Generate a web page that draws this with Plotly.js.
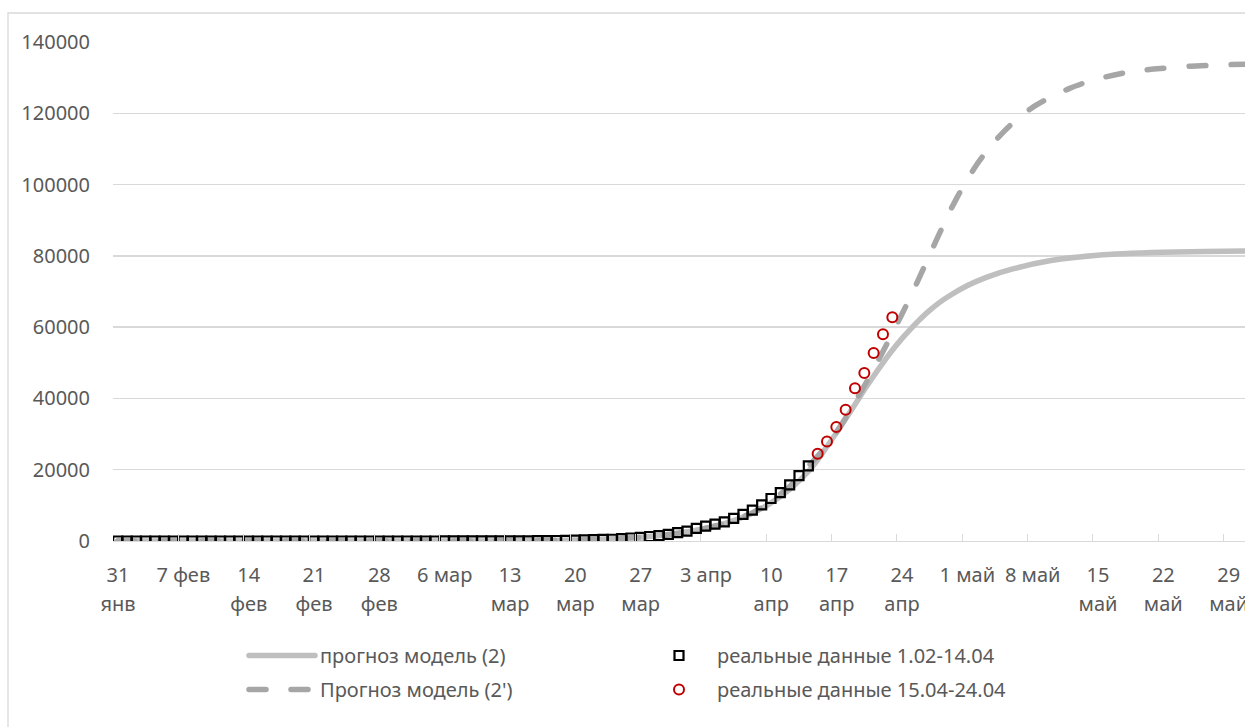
<!DOCTYPE html>
<html>
<head>
<meta charset="utf-8">
<script src="https://cdn.plot.ly/plotly-3.0.1.min.js"></script>
<style>
  html, body { margin: 0; padding: 0; background: #fff; overflow: hidden; }
  #chart { width: 1300px; height: 727px; }
  path.js-line { stroke-linecap: round; stroke-linejoin: round; }
</style>
</head>
<body>
<div id="chart"></div>
<script>
// ---------- data ----------
const realDates1 = [
  "2020-01-31",
  "2020-02-01","2020-02-02","2020-02-03","2020-02-04","2020-02-05","2020-02-06","2020-02-07",
  "2020-02-08","2020-02-09","2020-02-10","2020-02-11","2020-02-12","2020-02-13","2020-02-14",
  "2020-02-15","2020-02-16","2020-02-17","2020-02-18","2020-02-19","2020-02-20","2020-02-21",
  "2020-02-22","2020-02-23","2020-02-24","2020-02-25","2020-02-26","2020-02-27","2020-02-28","2020-02-29",
  "2020-03-01","2020-03-02","2020-03-03","2020-03-04","2020-03-05","2020-03-06","2020-03-07",
  "2020-03-08","2020-03-09","2020-03-10","2020-03-11","2020-03-12","2020-03-13","2020-03-14",
  "2020-03-15","2020-03-16","2020-03-17","2020-03-18","2020-03-19","2020-03-20","2020-03-21",
  "2020-03-22","2020-03-23","2020-03-24","2020-03-25","2020-03-26","2020-03-27","2020-03-28",
  "2020-03-29","2020-03-30","2020-03-31",
  "2020-04-01","2020-04-02","2020-04-03","2020-04-04","2020-04-05","2020-04-06","2020-04-07",
  "2020-04-08","2020-04-09","2020-04-10","2020-04-11","2020-04-12","2020-04-13","2020-04-14"
];
const realValues1 = [
  2,
  2,2,2,2,2,2,2,
  2,2,2,2,2,2,2,
  2,2,2,2,2,2,2,
  2,2,2,2,2,2,2,2,
  2,3,3,3,4,10,14,
  17,17,20,28,34,45,59,
  63,90,114,147,199,253,306,
  367,438,495,658,840,1036,1264,
  1534,1836,2337,
  2777,3548,4149,4731,5389,6343,7497,
  8672,10131,11917,13584,15770,18328,21102
];

const realDates2 = ["2020-04-15","2020-04-16","2020-04-17","2020-04-18","2020-04-19",
                    "2020-04-20","2020-04-21","2020-04-22","2020-04-23"];
const realValues2 = [24490,27938,32008,36793,42853,47121,52763,57999,62773];

const model2Dates = [
  "2020-01-31","2020-02-15","2020-03-01","2020-03-10","2020-03-15","2020-03-20","2020-03-24",
  "2020-03-27","2020-03-30","2020-04-02","2020-04-05","2020-04-08","2020-04-10","2020-04-12",
  "2020-04-14","2020-04-15","2020-04-16","2020-04-17","2020-04-18","2020-04-19","2020-04-20",
  "2020-04-21","2020-04-22","2020-04-23","2020-04-24","2020-04-25","2020-04-26","2020-04-27",
  "2020-04-28","2020-04-29","2020-05-01","2020-05-03","2020-05-06","2020-05-10","2020-05-15",
  "2020-05-22","2020-05-31","2020-06-07"
];
const model2Values = [
  0,0,5,30,90,270,600,
  1050,1800,3000,4900,7800,10700,14500,
  19500,22800,26500,30300,34300,38300,42400,
  46300,50000,53500,56700,59600,62300,64700,
  66800,68600,71600,73900,76400,78700,80200,
  81000,81400,81500
];

const model2pDates = [
  "2020-01-31","2020-02-15","2020-03-01","2020-03-10","2020-03-15","2020-03-20","2020-03-24",
  "2020-03-27","2020-03-30","2020-04-02","2020-04-05","2020-04-08","2020-04-10","2020-04-12",
  "2020-04-14","2020-04-15","2020-04-16","2020-04-17","2020-04-18","2020-04-19","2020-04-20",
  "2020-04-21","2020-04-22","2020-04-23","2020-04-24","2020-04-25","2020-04-26","2020-04-27",
  "2020-04-28","2020-04-29","2020-04-30","2020-05-01","2020-05-02","2020-05-03","2020-05-04",
  "2020-05-05","2020-05-06","2020-05-07","2020-05-08","2020-05-10","2020-05-12","2020-05-14",
  "2020-05-16","2020-05-18","2020-05-21","2020-05-25","2020-05-31","2020-06-07"
];
const model2pValues = [
  0,0,5,30,90,270,600,
  1050,1800,3000,4900,7900,11200,15300,
  21000,23800,27000,30500,34500,39000,43500,
  48300,53200,58300,63500,68800,74500,80300,
  86000,91600,96700,101300,105400,109000,112200,
  115000,117500,119700,121600,124600,127000,128900,
  130300,131400,132400,133200,133800,134000
];

// tick dates and their two-line labels (first line / second line)
const tickDates = ["2020-01-31","2020-02-07","2020-02-14","2020-02-21","2020-02-28","2020-03-06",
  "2020-03-13","2020-03-20","2020-03-27","2020-04-03","2020-04-10","2020-04-17","2020-04-24",
  "2020-05-01","2020-05-08","2020-05-15","2020-05-22","2020-05-29"];
const tickLine1 = ["31","7 фев","14","21","28","6 мар","13","20","27","3 апр","10","17","24",
  "1 май","8 май","15","22","29"];
const tickLine2 = ["янв","","фев","фев","фев","","мар","мар","мар","","апр","апр","апр",
  "","","май","май","май"];

const yTicks = [0,20000,40000,60000,80000,100000,120000,140000];

// ---------- helpers: plot each daily value at the middle of its day ----------
const mid = d => d + " 12:00";

const FONT = {family: "Noto Sans, Open Sans, sans-serif", size: 20, color: "#595959"};
const X_RANGE = ["2020-01-31", "2020-06-06 04:20"];

const traces = [
  {
    x: model2Dates.map(mid), y: model2Values, type: "scatter", mode: "lines",
    name: "прогноз модель (2)", legend: "legend",
    line: {color: "#bfbfbf", width: 5.5, shape: "spline", smoothing: 0.6}
  },
  {
    x: model2pDates.map(mid), y: model2pValues, type: "scatter", mode: "lines",
    name: "Прогноз модель (2')", legend: "legend2",
    line: {color: "#a6a6a6", width: 5.5, dash: "17px,25px", shape: "spline", smoothing: 0.6}
  },
  {
    x: realDates1.map(mid), y: realValues1, type: "scatter", mode: "markers",
    name: "реальные данные 1.02-14.04", legend: "legend3",
    marker: {symbol: "square", size: 9, color: "rgba(0,0,0,0)", line: {color: "#000000", width: 2.2}}
  },
  {
    x: realDates2.map(mid), y: realValues2, type: "scatter", mode: "markers",
    name: "реальные данные 15.04-24.04", legend: "legend4",
    marker: {symbol: "circle", size: 10, color: "rgba(0,0,0,0)", line: {color: "#c00000", width: 2}}
  },
  // carrier for the second line of the date labels (nothing visible)
  {
    x: [mid(tickDates[0])], y: [0], xaxis: "x2", yaxis: "y", type: "scatter", mode: "markers",
    marker: {opacity: 0}, showlegend: false, hoverinfo: "skip"
  }
];

const PW = 1187; // plot width in px
const legendBase = {
  orientation: "v", itemwidth: 66, font: FONT, bgcolor: "rgba(0,0,0,0)",
  xanchor: "left", yanchor: "top"
};
const px2x = p => (p - 113) / PW;
const py2y = p => (541 - p) / 499;

const layout = {
  width: 1300, height: 727,
  margin: {l: 113, r: 0, t: 42, b: 186},
  paper_bgcolor: "#ffffff", plot_bgcolor: "#ffffff",
  font: FONT,
  xaxis: {
    type: "date",
    range: X_RANGE,
    tickvals: tickDates, ticktext: tickLine1,
    ticks: "inside", ticklen: 7, tickcolor: "#d9d9d9", tickwidth: 1,
    ticklabelshift: 5, ticklabelstandoff: 16,
    showgrid: false, zeroline: false,
    showline: true, linecolor: "#d9d9d9", linewidth: 1.3,
    tickfont: FONT, fixedrange: true
  },
  xaxis2: {
    type: "date", overlaying: "x", anchor: "y", side: "bottom", matches: "x",
    range: X_RANGE,
    tickvals: tickDates, ticktext: tickLine2,
    ticks: "", ticklabelshift: 5, ticklabelstandoff: 49,
    showgrid: false, zeroline: false, showline: false,
    tickfont: FONT, fixedrange: true
  },
  yaxis: {
    range: [0, 140000],
    tickvals: yTicks, ticktext: yTicks.map(String),
    ticks: "", ticklabelstandoff: 22,
    showgrid: true, gridcolor: "#d9d9d9", gridwidth: 1.3,
    zeroline: false, showline: false,
    tickfont: FONT, fixedrange: true
  },
  legend:  Object.assign({}, legendBase, {x: px2x(244), y: py2y(636)}),
  legend2: Object.assign({}, legendBase, {x: px2x(244), y: py2y(670)}),
  legend3: Object.assign({}, legendBase, {x: px2x(641), y: py2y(636)}),
  legend4: Object.assign({}, legendBase, {x: px2x(641), y: py2y(670)}),
  shapes: [{
    type: "rect", xref: "paper", yref: "paper",
    x0: px2x(8), x1: 1.05, y0: -0.45, y1: py2y(13),
    line: {color: "#d9d9d9", width: 1.3}, fillcolor: "rgba(0,0,0,0)", layer: "below"
  }],
  showlegend: true
};

Plotly.newPlot("chart", traces, layout, {displayModeBar: false, staticPlot: true});
</script>
</body>
</html>
